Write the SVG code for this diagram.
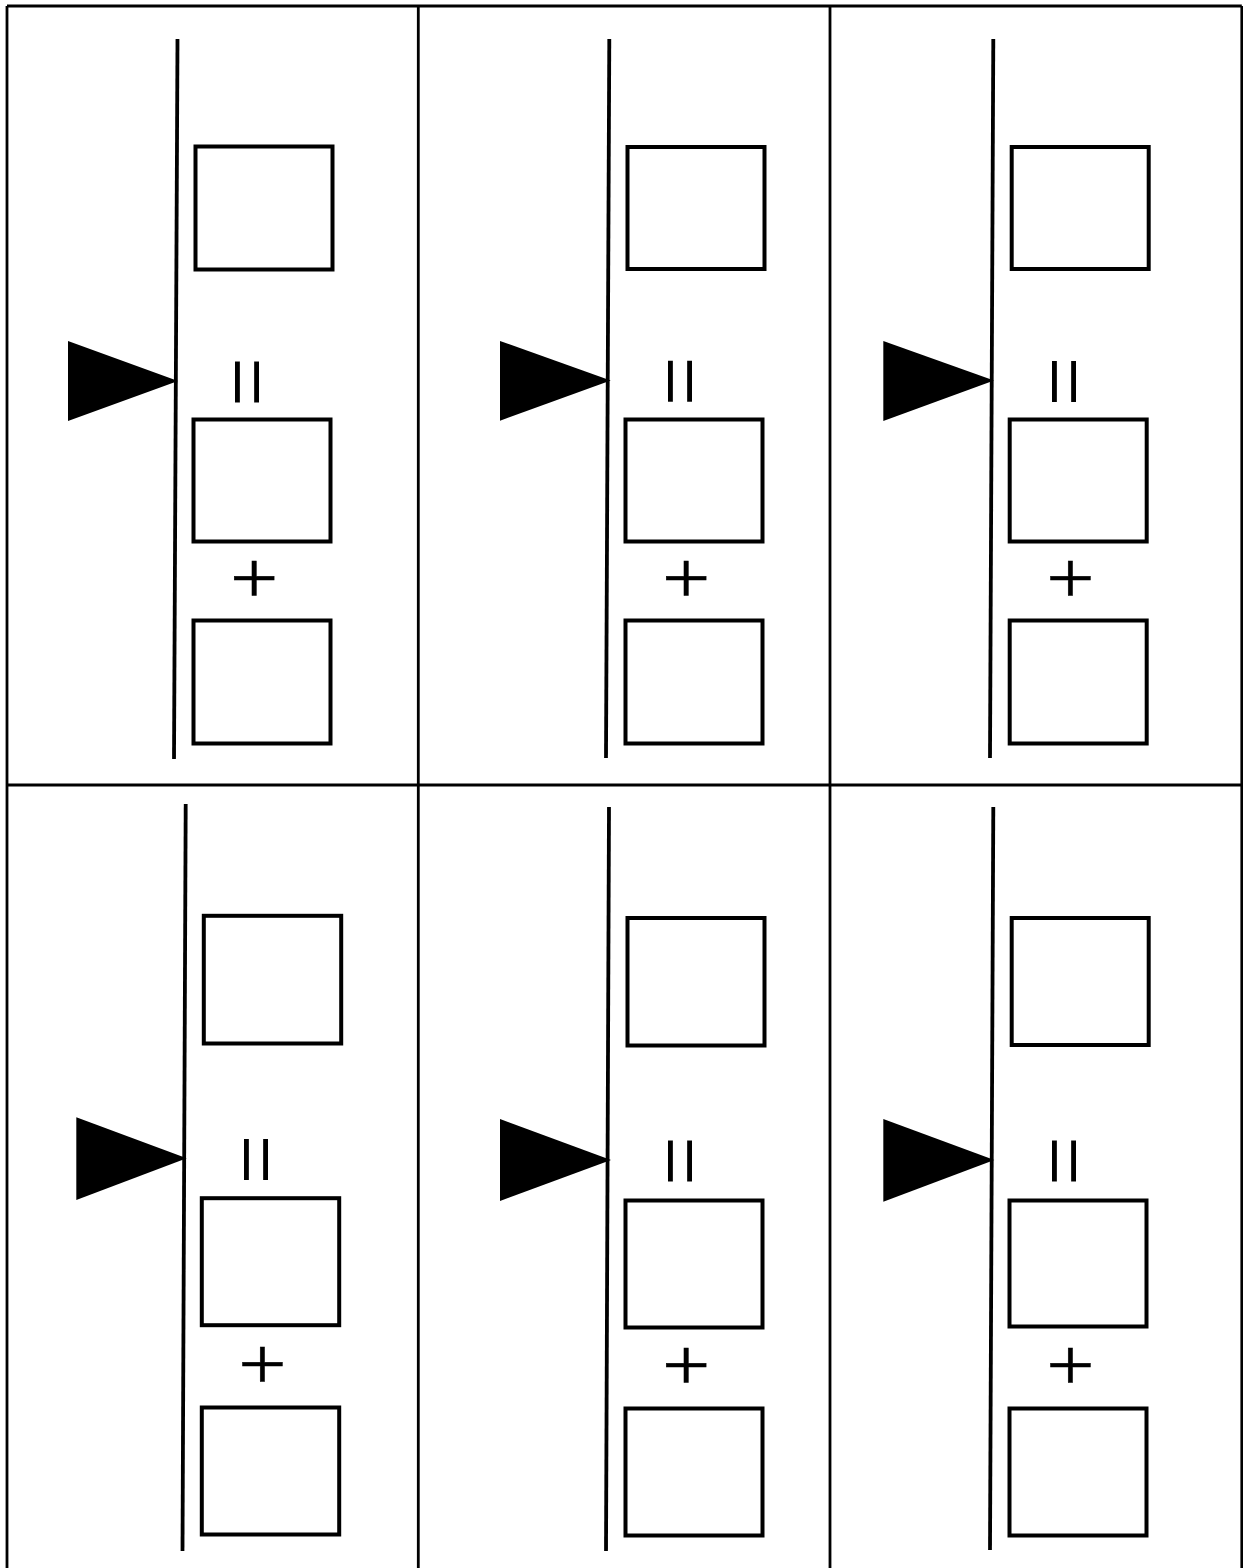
<svg xmlns="http://www.w3.org/2000/svg" width="1243" height="1568" viewBox="0 0 1243 1568">
<style>
.grid{stroke:#000;stroke-width:2.8;fill:none}
.stem{stroke:#000;stroke-width:3.8;fill:none}
.ptr{fill:#000;stroke:none}
.box{fill:#fff;stroke:#000;stroke-width:4}
.sym{font-family:"Liberation Serif","Times New Roman",serif;font-size:75px;fill:#000;text-anchor:middle}
.plus{font-family:"Liberation Serif","Times New Roman",serif;font-size:80px;fill:#000;stroke:#000;stroke-width:0.5;text-anchor:middle}
</style>
<rect width="1243" height="1568" fill="#fff"/>
<g id="table" class="grid">
<line x1="7" y1="6" x2="1241.8" y2="6"/>
<line x1="7" y1="785" x2="1241.8" y2="785"/>
<line x1="7" y1="6" x2="7" y2="1570"/>
<line x1="418.3" y1="6" x2="418.3" y2="1570"/>
<line x1="830" y1="6" x2="830" y2="1570"/>
<line x1="1241.8" y1="6" x2="1241.8" y2="1570"/>
</g>
<g id="connectors">
<line class="stem" x1="177.5" y1="39" x2="174" y2="759"/>
<line class="stem" x1="609.3" y1="39" x2="606" y2="758"/>
<line class="stem" x1="993.3" y1="39" x2="990" y2="758"/>
<line class="stem" x1="185.7" y1="804" x2="182.5" y2="1551"/>
<line class="stem" x1="609" y1="807" x2="606" y2="1551"/>
<line class="stem" x1="993.3" y1="807" x2="990" y2="1550"/>
<polygon class="ptr" points="68,341 178,381 68,421"/>
<polygon class="ptr" points="500,341 610.7,380.5 500,420.7"/>
<polygon class="ptr" points="883.3,341 994,380.5 883.3,421"/>
<polygon class="ptr" points="76.3,1117.3 186.7,1158.3 76.3,1200"/>
<polygon class="ptr" points="500,1119 611,1160 500,1201"/>
<polygon class="ptr" points="883.3,1119 994.3,1160 883.3,1201.7"/>
</g>
<g id="cell-1">
<rect class="box" x="195.5" y="146.5" width="137" height="123"/>
<text class="sym" transform="translate(246.3,382) rotate(90) scale(1.18,1.3)" y="23.8">=</text>
<rect class="box" x="193.5" y="419.5" width="137" height="122"/>
<text class="plus" transform="translate(254.2,580) scale(1.07,0.93)" y="25">+</text>
<rect class="box" x="193.5" y="620.5" width="137" height="123"/>
</g>
<g id="cell-2">
<rect class="box" x="627.5" y="147" width="137" height="122"/>
<text class="sym" transform="translate(678.8,381.2) rotate(90) scale(1.18,1.3)" y="23.8">=</text>
<rect class="box" x="625.5" y="419.5" width="137" height="122"/>
<text class="plus" transform="translate(686.2,580) scale(1.07,0.93)" y="25">+</text>
<rect class="box" x="625.5" y="620.5" width="137" height="123"/>
</g>
<g id="cell-3">
<rect class="box" x="1011.7" y="147" width="137" height="122"/>
<text class="sym" transform="translate(1062.5,381.5) rotate(90) scale(1.18,1.3)" y="23.8">=</text>
<rect class="box" x="1009.7" y="419.5" width="137" height="122"/>
<text class="plus" transform="translate(1070.4,580) scale(1.07,0.93)" y="25">+</text>
<rect class="box" x="1009.7" y="620.5" width="137" height="123"/>
</g>
<g id="cell-4">
<rect class="box" x="203.8" y="915.8" width="137.4" height="127.7"/>
<text class="sym" transform="translate(255.2,1159.4) rotate(90) scale(1.18,1.3)" y="23.8">=</text>
<rect class="box" x="201.8" y="1198.2" width="137.4" height="127"/>
<text class="plus" transform="translate(262.5,1365.5) scale(1.07,0.93)" y="25">+</text>
<rect class="box" x="201.8" y="1407.5" width="137.4" height="127"/>
</g>
<g id="cell-5">
<rect class="box" x="627.5" y="918" width="137" height="127.5"/>
<text class="sym" transform="translate(678.5,1161) rotate(90) scale(1.18,1.3)" y="23.8">=</text>
<rect class="box" x="625.5" y="1200.5" width="137" height="127"/>
<text class="plus" transform="translate(686.2,1366.5) scale(1.07,0.93)" y="25">+</text>
<rect class="box" x="625.5" y="1408.5" width="137" height="127"/>
</g>
<g id="cell-6">
<rect class="box" x="1011.7" y="918" width="137" height="127"/>
<text class="sym" transform="translate(1062.7,1161) rotate(90) scale(1.18,1.3)" y="23.8">=</text>
<rect class="box" x="1009.5" y="1200.5" width="137" height="126"/>
<text class="plus" transform="translate(1070.5,1366.5) scale(1.07,0.93)" y="25">+</text>
<rect class="box" x="1009.5" y="1408.5" width="137" height="127"/>
</g>
</svg>
